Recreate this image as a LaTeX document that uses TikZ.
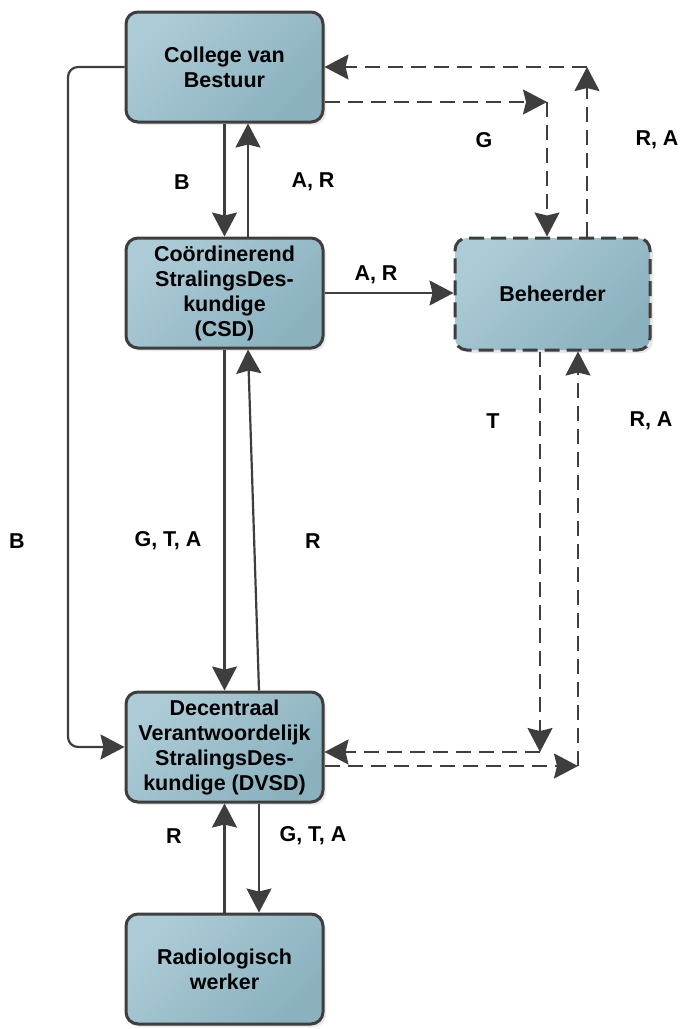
\documentclass[tikz,border=0pt]{standalone}
\usepackage{fontspec}
\setmainfont{Liberation Sans}
\usetikzlibrary{arrows.meta, positioning, calc, shadows}
\definecolor{boxlight}{RGB}{172,203,214}
\definecolor{boxdark}{RGB}{139,177,191}
\definecolor{linegray}{RGB}{62,62,62}

\begin{document}
\begin{tikzpicture}[x=1pt, y=-1pt,
  box/.style={draw=linegray, line width=3pt, rounded corners=12pt, minimum width=197pt, minimum height=110pt, inner sep=2pt, align=center, font=\fontsize{21.5}{25}\selectfont\bfseries, top color=boxlight, bottom color=boxdark, shading angle=45, drop shadow={shadow xshift=3pt, shadow yshift=-3pt, opacity=0.18}},
  dashbox/.style={box, dash pattern=on 15pt off 7pt, minimum width=195pt, minimum height=112pt},
  arrow/.style={-{Stealth[length=24pt, width=25pt, inset=3pt]}, line width=2.2pt, draw=linegray},
  darrow/.style={arrow, dash pattern=on 15pt off 8pt},
  lbl/.style={font=\fontsize{21.5}{25}\selectfont\bfseries}
]
  \useasboundingbox (0,0) rectangle (680,1029);

  \node[box] (cvb) at (224.5, 67) {College van\\Bestuur};
  \node[box] (csd) at (224.5, 293) {Coördinerend\\StralingsDes-\\kundige\\(CSD)};
  \node[dashbox] (beh) at (552.5, 294) {Beheerder};
  \node[box] (dvsd) at (224.5, 747) {Decentraal\\Verantwoordelijk\\StralingsDes-\\kundige (DVSD)};
  \node[box] (rad) at (224.5, 969) {Radiologisch\\werker};

  \coordinate (lft) at (68, 400);
  \coordinate (gc) at (547, 102);
  \coordinate (rc) at (587, 67);
  \coordinate (tc) at (540, 752);
  \coordinate (ac) at (578, 766);

  \draw[arrow] (cvb.south) -- (csd.north);
  \draw[arrow] ([xshift=23.5pt]csd.north) -- ([xshift=23.5pt]cvb.south);
  \draw[arrow] (csd.south) -- (dvsd.north);
  \draw[arrow] ([xshift=34.5pt]dvsd.north) -- ([xshift=23.5pt]csd.south);
  \draw[arrow] (rad.north) -- (dvsd.south);
  \draw[arrow] ([xshift=34.5pt]dvsd.south) -- ([xshift=34.5pt]rad.north);
  \draw[arrow] (csd.east) -- (csd.east -| beh.west);
  \draw[arrow, rounded corners=10pt] (cvb.west) -| (lft) |- (dvsd.west);

  \draw[darrow] ([yshift=-35pt]cvb.east) -- (gc);
  \draw[darrow] (gc) -- (gc |- beh.north);
  \draw[darrow] (rc |- beh.north) -- (rc);
  \draw[darrow] (rc) -- (cvb.east);
  \draw[darrow] (tc |- beh.south) -- (tc);
  \draw[darrow] (tc) -- (tc -| dvsd.east);
  \draw[darrow] (ac -| dvsd.east) -- (ac);
  \draw[darrow] (ac) -- (ac |- beh.south);

  \node[lbl] (bcvb) at (182, 182) {B};
  \node[lbl] (arcvb) at (313, 182) {A, R};
  \node[lbl] (gbeh) at (484, 140) {G};
  \node[lbl] (rabeh) at (657, 140) {R, A};
  \node[lbl] (arbeh) at (376, 275) {A, R};
  \node[lbl] (tbeh) at (493, 421) {T};
  \node[lbl] (radvsd) at (651, 421) {R, A};
  \node[lbl] (bleft) at (17, 541) {B};
  \node[lbl] (gtadvsd) at (168, 541) {G, T, A};
  \node[lbl] (rcsd) at (313, 541) {R};
  \node[lbl] (rrad) at (174, 836) {R};
  \node[lbl] (gtarad) at (313, 836) {G, T, A};
\end{tikzpicture}
\end{document}
